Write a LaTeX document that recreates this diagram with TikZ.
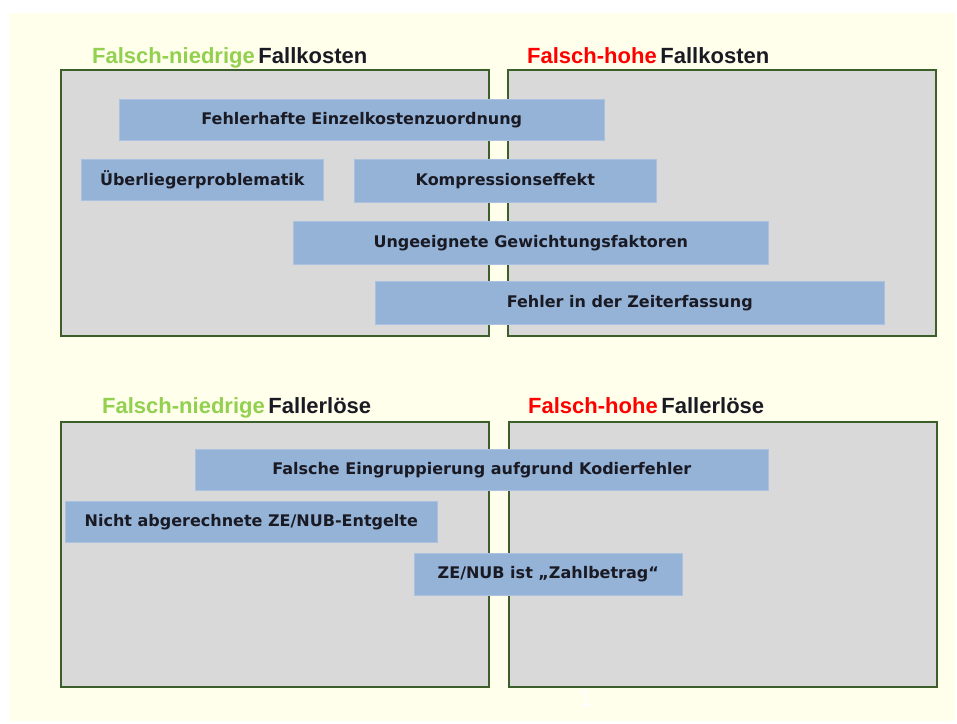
\documentclass[tikz,border=0pt]{standalone}
\usepackage{fontspec}
\setmainfont{Liberation Sans}
\newfontfamily\boxfont{DejaVu Sans}
\usepackage{xcolor}
\definecolor{fcCream}{HTML}{FFFFEB}
\definecolor{fcPanel}{HTML}{D9D9D9}
\definecolor{fcBorder}{HTML}{3B5E2B}
\definecolor{fcBlue}{HTML}{95B3D7}
\definecolor{fcLow}{HTML}{92D050}
\definecolor{fcHigh}{HTML}{FF0000}
\definecolor{fcText}{HTML}{1A1A24}

\begin{document}
\begin{tikzpicture}[
  x=1pt, y=-1pt,
  panel/.style={
    draw=fcBorder,
    line width=1.6pt,
    fill=fcPanel,
    anchor=north west,
    inner sep=0pt,
    minimum width=428pt,
    minimum height=266pt
  },
  cause/.style={
    fill=fcBlue,
    draw=fcBlue!80!white,
    line width=0.6pt,
    anchor=north west,
    inner sep=0pt,
    minimum height=41pt,
    text=fcText,
    font=\boxfont\bfseries\fontsize{16}{18}\selectfont
  },
  heading/.style={anchor=base west, inner sep=0pt, text=fcText, font=\bfseries\fontsize{22}{25}\selectfont}
]
\useasboundingbox (0,0) rectangle (957,723);
\fill[fcCream] (9,13) rectangle (955,721);

% four panels
\node[panel] (ptl) at (60,69) {};
\node[panel] (ptr) at (507,69) {};
\node[panel, minimum height=265pt] (pbl) at (60,421) {};
\node[panel, minimum height=265pt] (pbr) at (508,421) {};

\node[heading] (htl) at (92,63) {\textcolor{fcLow}{Falsch-niedrige}\,Fallkosten};
\node[heading] (htr) at (527,63) {\textcolor{fcHigh}{Falsch-hohe}\,Fallkosten};
\node[heading] (hbl) at (102,413) {\textcolor{fcLow}{Falsch-niedrige}\,Fallerlöse};
\node[heading] (hbr) at (528,413) {\textcolor{fcHigh}{Falsch-hohe}\,Fallerlöse};

% causes, costs
\node[cause, minimum width=485pt] (c1) at (119,99) {Fehlerhafte Einzelkostenzuordnung};
\node[cause, minimum width=242pt] (c2) at (81,159) {Überliegerproblematik};
\node[cause, minimum width=302pt, minimum height=43pt] (c3) at (354,159) {Kompressionseffekt};
\node[cause, minimum width=475pt, minimum height=43pt] (c4) at (293,221) {Ungeeignete Gewichtungsfaktoren};
\node[cause, minimum width=509pt, minimum height=43pt] (c5) at (375,281) {Fehler in der Zeiterfassung};

% causes, revenues
\node[cause, minimum width=573pt] (r1) at (195,449) {Falsche Eingruppierung aufgrund Kodierfehler};
\node[cause, minimum width=372pt] (r2) at (65,501) {Nicht abgerechnete ZE/NUB-Entgelte};
\node[cause, minimum width=268pt, minimum height=42pt] (r3) at (414,553) {ZE/NUB ist „Zahlbetrag“};

\node[text=white, font=\fontsize{24}{26}\selectfont] (pnum) at (585,698) {1};
\end{tikzpicture}
\end{document}
